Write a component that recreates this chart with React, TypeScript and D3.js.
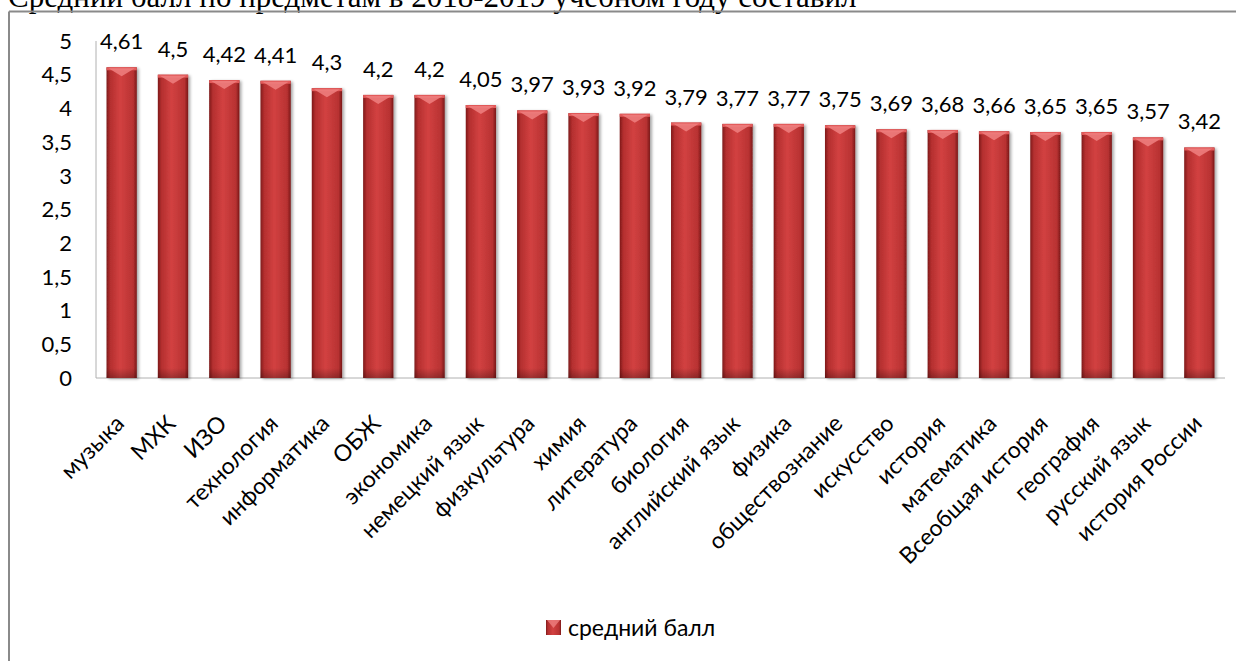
import React from "react";
import * as d3 from "d3";

const categories = ["музыка", "МХК", "ИЗО", "технология", "информатика", "ОБЖ", "экономика", "немецкий язык", "физкультура", "химия", "литература", "биология", "английский язык", "физика", "обществознание", "искусство", "история", "математика", "Всеобщая история", "география", "русский язык", "история России"];
const values = [4.61, 4.5, 4.42, 4.41, 4.3, 4.2, 4.2, 4.05, 3.97, 3.93, 3.92, 3.79, 3.77, 3.77, 3.75, 3.69, 3.68, 3.66, 3.65, 3.65, 3.57, 3.42];
const yTicks = [0, 0.5, 1, 1.5, 2, 2.5, 3, 3.5, 4, 4.5, 5];
const seriesName = "средний балл";
const title = "Средний балл по предметам в 2018-2019 учебном году составил";

const fmt = (v: number) => String(v).replace(".", ",");
const FONT = "Lato, 'Open Sans', sans-serif";

export default function App() {
  const W = 1236, H = 661;
  const left = 96, right = 1225, top = 41, bottom = 378;
  const x = d3.scaleBand<string>().domain(categories).range([left, right]).paddingInner(0.41).paddingOuter(0.205);
  const y = d3.scaleLinear().domain([0, 5]).range([bottom, top]);
  const bw = x.bandwidth();

  return (
    <svg width={W} height={H} style={{ position: "absolute", left: 0, top: 0, display: "block" }}>
      <defs>
        <linearGradient id="barGrad" x1="0" x2="1" y1="0" y2="0">
          <stop offset="0%" stopColor="#7e1a1a" />
          <stop offset="12%" stopColor="#b42f2f" />
          <stop offset="45%" stopColor="#d24141" />
          <stop offset="88%" stopColor="#b83232" />
          <stop offset="100%" stopColor="#7a1818" />
        </linearGradient>
        <linearGradient id="bottomGrad" x1="0" x2="0" y1="0" y2="1">
          <stop offset="0%" stopColor="#000" stopOpacity="0" />
          <stop offset="100%" stopColor="#000" stopOpacity="0.25" />
        </linearGradient>
        <filter id="shadow" x="-20%" y="-5%" width="150%" height="115%">
          <feGaussianBlur in="SourceAlpha" stdDeviation="1.5" />
          <feOffset dx="2" dy="1" result="b" />
          <feComponentTransfer><feFuncA type="linear" slope="0.35" /></feComponentTransfer>
          <feMerge><feMergeNode /><feMergeNode in="SourceGraphic" /></feMerge>
        </filter>
      </defs>
      <rect x={0} y={0} width={W} height={H} fill="#fff" />
      <text x={8} y={7} fontFamily="'Liberation Serif', 'Times New Roman', serif" fontSize={31} fill="#000">{title}</text>
      {/* chart frame */}
      <line x1={9} y1={11.5} x2={W} y2={11.5} stroke="#8a8a8a" strokeWidth={2} />
      <line x1={9} y1={11.5} x2={9} y2={H} stroke="#8a8a8a" strokeWidth={2} />
      {/* axes */}
      <line x1={left} y1={top} x2={left} y2={bottom} stroke="#b0b0b0" strokeWidth={1} />
      <line x1={left} y1={bottom} x2={right} y2={bottom} stroke="#b0b0b0" strokeWidth={1} />
      {yTicks.map((t) => (
        <text key={t} x={72} y={y(t)} dy="0.35em" textAnchor="end" fontFamily={FONT} fontSize={22} fill="#000">{fmt(t)}</text>
      ))}
      {categories.map((c, i) => {
        const x0 = x(c)!;
        const yt = y(values[i]);
        const h = bottom - yt;
        const cx = x0 + bw / 2;
        return (
          <g key={c}>
            <g filter="url(#shadow)">
              <rect x={x0} y={yt} width={bw} height={h} fill="url(#barGrad)" />
            </g>
            <rect x={x0} y={bottom - 10} width={bw} height={10} fill="url(#bottomGrad)" />
            <rect x={x0} y={yt} width={bw} height={3} fill="#e25a5a" />
            <polygon points={`${x0 + 2},${yt + 1} ${x0 + bw - 2},${yt + 1} ${cx},${yt + 9}`} fill="#ee8080" opacity={0.85} />
            <text x={cx} y={yt - 18} textAnchor="middle" fontFamily={FONT} fontSize={22} fill="#000">{fmt(values[i])}</text>
            <text transform={`translate(${cx + 4},${bottom + 47}) rotate(-45)`} textAnchor="end" fontFamily={FONT} fontSize={23} fill="#000">{c}</text>
          </g>
        );
      })}
      {/* legend */}
      <g>
        <rect x={546} y={620} width={15} height={15} fill="url(#barGrad)" />
        <polygon points={`547,620 560,620 553.5,628`} fill="#ee8080" opacity={0.8} />
        <text x={568} y={628} dy="0.35em" fontFamily={FONT} fontSize={23} fill="#000">{seriesName}</text>
      </g>
    </svg>
  );
}
